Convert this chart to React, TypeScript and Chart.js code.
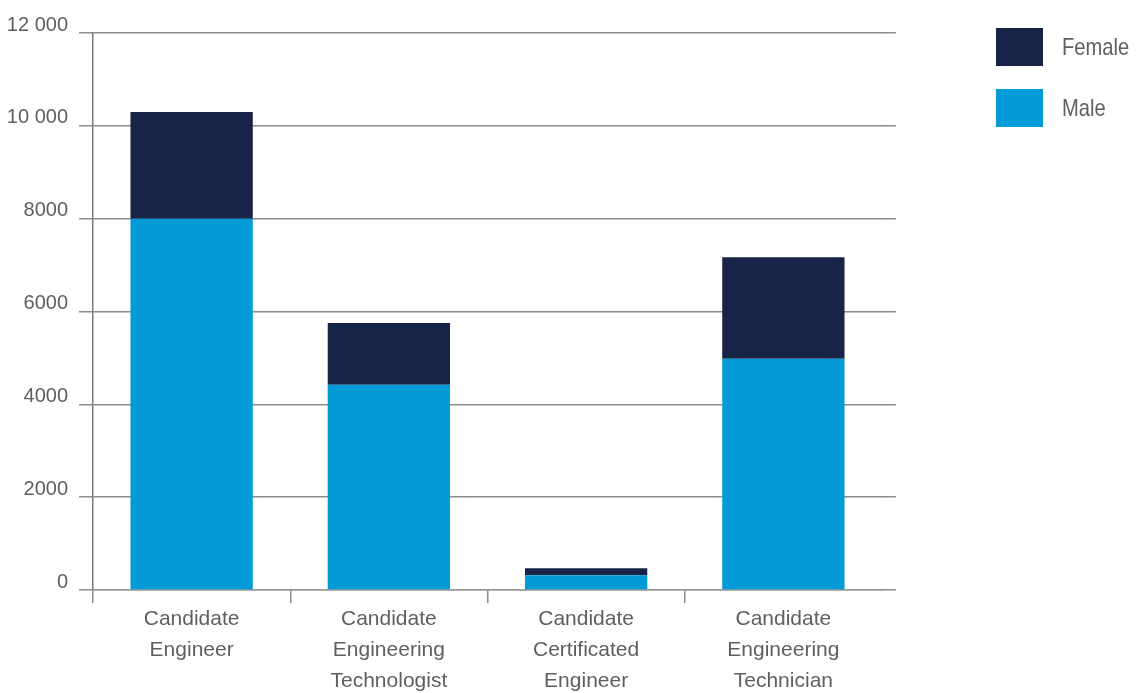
import React, { useEffect, useRef } from "react";
import { Chart, registerables } from "chart.js";

Chart.register(...registerables);

const categories: string[][] = [
  ["Candidate", "Engineer"],
  ["Candidate", "Engineering", "Technologist"],
  ["Candidate", "Certificated", "Engineer"],
  ["Candidate", "Engineering", "Technician"],
];
const seriesNames = ["Male", "Female"];
const maleValues = [8000, 4420, 320, 4980];
const femaleValues = [2300, 1330, 150, 2190];
const yTickValues = [0, 2000, 4000, 6000, 8000, 10000, 12000];
const yTickLabels = ["0", "2000", "4000", "6000", "8000", "10 000", "12 000"];

const MALE_COLOR = "#039BD7";
const FEMALE_COLOR = "#172448";
const TEXT_COLOR = "#5f5f5f";
const GRID_COLOR = "#8c8c8c";
const FONT = "'Liberation Sans', Arial, sans-serif";
const GRID_W = 1.5;

const align = (p: number, w: number) => Math.round(p - w / 2) + w / 2;

const gridExtend = {
  id: "gridExtend",
  afterDraw(chart: any) {
    const { ctx, chartArea, scales } = chart;
    const y = scales.y;
    ctx.save();
    ctx.strokeStyle = GRID_COLOR;
    ctx.lineWidth = GRID_W;
    y.ticks.forEach((t: any) => {
      const py = align(y.getPixelForValue(t.value), GRID_W);
      ctx.beginPath();
      ctx.moveTo(chartArea.right - 1, py);
      ctx.lineTo(chartArea.right + 14, py);
      ctx.stroke();
    });
    ctx.restore();
  },
};

export default function App() {
  const ref = useRef<HTMLCanvasElement>(null);

  useEffect(() => {
    if (!ref.current) return;
    const chart = new Chart(ref.current, {
      type: "bar",
      data: {
        labels: categories as any,
        datasets: [
          {
            label: seriesNames[0],
            data: maleValues,
            backgroundColor: MALE_COLOR,
            categoryPercentage: 1,
            barPercentage: 0.62,
          },
          {
            label: seriesNames[1],
            data: femaleValues,
            backgroundColor: FEMALE_COLOR,
            categoryPercentage: 1,
            barPercentage: 0.62,
          },
        ],
      },
      options: {
        animation: false,
        responsive: true,
        maintainAspectRatio: false,
        layout: { padding: { left: 0, top: 33, right: 257, bottom: 0 } },
        plugins: { legend: { display: false }, tooltip: { enabled: false } },
        scales: {
          x: {
            stacked: true,
            offset: true,
            grid: {
              offset: true,
              drawOnChartArea: false,
              drawTicks: true,
              tickLength: 13,
              lineWidth: GRID_W,
              color: (c: any) => (c.type === "tick" ? GRID_COLOR : "rgba(0,0,0,0)"),
            },
            border: { display: true, color: "#9a9a9a", width: GRID_W },
            ticks: {
              color: TEXT_COLOR,
              padding: 1,
              maxRotation: 0,
              autoSkip: false,
              font: { family: FONT, size: 21, lineHeight: 31 / 21 },
            },
            afterFit(scale: any) {
              scale.height = 103;
            },
          },
          y: {
            stacked: true,
            min: 0,
            max: 12000,
            afterBuildTicks(scale: any) {
              scale.ticks = yTickValues.map((v) => ({ value: v }));
            },
            grid: {
              color: GRID_COLOR,
              lineWidth: GRID_W,
              tickLength: 14,
              drawTicks: true,
            },
            border: { display: true, color: "#7a7a7a", width: GRID_W },
            ticks: {
              color: TEXT_COLOR,
              padding: 11,
              labelOffset: -8,
              font: { family: FONT, size: 20 },
              callback: (_v: any, i: number) => yTickLabels[i],
            },
            afterFit(scale: any) {
              scale.width = 93;
            },
          },
        },
      },
      plugins: [gridExtend],
    });
    return () => chart.destroy();
  }, []);

  const legendItems = [
    { label: seriesNames[1], color: FEMALE_COLOR },
    { label: seriesNames[0], color: MALE_COLOR },
  ];

  return (
    <div style={{ position: "fixed", left: 0, top: 0, width: 1139, height: 693, background: "#fff" }}>
      <canvas ref={ref} />
      <div style={{ position: "absolute", left: 996, top: 28 }}>
        {legendItems.map((it, i) => (
          <div key={it.label} style={{ display: "flex", alignItems: "center", height: 38, marginBottom: i === 0 ? 23 : 0 }}>
            <div style={{ width: 47, height: 38, background: it.color }} />
            <span
              style={{
                marginLeft: 19,
                fontFamily: FONT,
                fontSize: 24,
                color: TEXT_COLOR,
                display: "inline-block",
                transform: "scaleX(0.84)",
                transformOrigin: "left center",
                whiteSpace: "nowrap",
              }}
            >
              {it.label}
            </span>
          </div>
        ))}
      </div>
    </div>
  );
}
